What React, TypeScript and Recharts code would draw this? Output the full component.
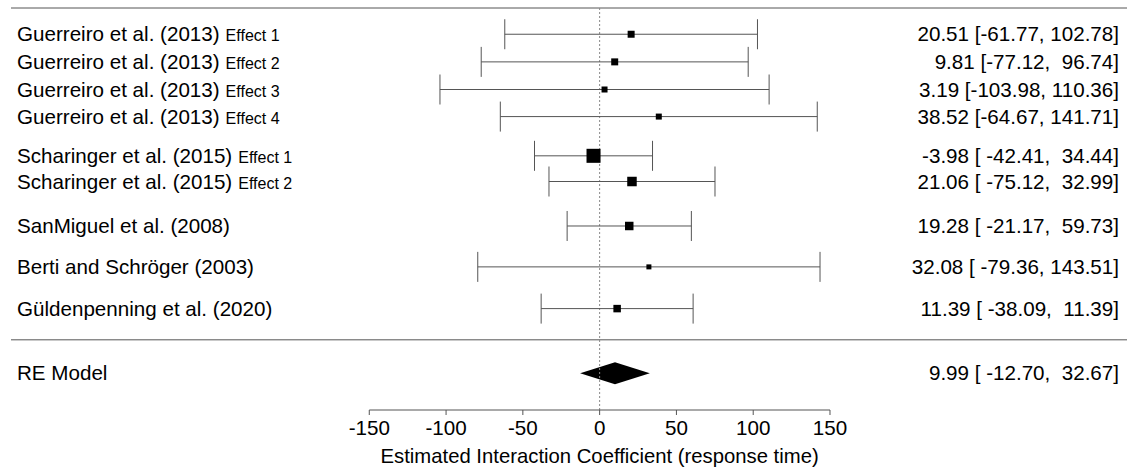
import React from 'react';
import {
  ComposedChart,
  Scatter,
  Area,
  ErrorBar,
  XAxis,
  YAxis,
  ReferenceLine,
} from 'recharts';

// study rows (top to bottom)
const studies = [
  'Guerreiro et al. (2013)',
  'Guerreiro et al. (2013)',
  'Guerreiro et al. (2013)',
  'Guerreiro et al. (2013)',
  'Scharinger et al. (2015)',
  'Scharinger et al. (2015)',
  'SanMiguel et al. (2008)',
  'Berti and Schröger (2003)',
  'Güldenpenning et al. (2020)',
];
const effects = ['Effect 1', 'Effect 2', 'Effect 3', 'Effect 4', 'Effect 1', 'Effect 2', '', '', ''];
const estimates = [20.51, 9.81, 3.19, 38.52, -3.98, 21.06, 19.28, 32.08, 11.39];
const ciLow = [-61.77, -77.12, -103.98, -64.67, -42.41, -32.99, -21.17, -79.36, -38.09];
const ciHigh = [102.78, 96.74, 110.36, 141.71, 34.44, 75.12, 59.73, 143.51, 60.87];
const weights = [8.0, 8.0, 5.9, 5.9, 32.2, 14.8, 11.8, 4.1, 9.2];
const ciText = [
  '20.51 [-61.77, 102.78]',
  '9.81 [-77.12,  96.74]',
  '3.19 [-103.98, 110.36]',
  '38.52 [-64.67, 141.71]',
  '-3.98 [ -42.41,  34.44]',
  '21.06 [ -75.12,  32.99]',
  '19.28 [ -21.17,  59.73]',
  '32.08 [ -79.36, 143.51]',
  '11.39 [ -38.09,  11.39]',
];
// vertical row positions, forest-plot style
const rows = [13.6, 12.6, 11.6, 10.62, 9.2, 8.27, 6.66, 5.18, 3.67];

// pooled random-effects model
const reLabel = 'RE Model';
const reEstimate = 9.99;
const reLow = -12.7;
const reHigh = 32.67;
const reText = '9.99 [ -12.70,  32.67]';
const reRow = 1.33;

const xTicks = [-150, -100, -50, 0, 50, 100, 150];
const axisTitle = 'Estimated Interaction Coefficient (response time)';

const X_MIN = -383.3;
const X_MAX = 343.4;
const Y_TOP = 14.55;
const SEPARATOR = 2.54;
const FONT = 'Liberation Sans, Arial, sans-serif';
const FS = 20.6;

const points = estimates.map((est, i) => ({
  x: est,
  y: rows[i],
  err: [est - ciLow[i], ciHigh[i] - est],
  w: weights[i],
}));

const diamond = [
  { x: reLow, band: [reRow, reRow] },
  { x: reEstimate, band: [reRow - 0.4, reRow + 0.4] },
  { x: reHigh, band: [reRow, reRow] },
];

const Square = (props: any) => {
  const { cx, cy, payload } = props;
  const s = Math.sqrt(payload.w) * 2.47;
  return <rect x={cx - s / 2} y={cy - s / 2} width={s} height={s} fill="#000" />;
};

const RowTick = (props: any) => {
  const { y, payload } = props;
  const i = rows.indexOf(payload.value);
  const left = i >= 0 ? studies[i] : reLabel;
  const eff = i >= 0 ? effects[i] : '';
  const right = i >= 0 ? ciText[i] : reText;
  return (
    <g fontFamily={FONT} fill="#000">
      <text x={17} y={y} dy="0.35em" fontSize={FS} style={{ whiteSpace: 'pre' }}>
        {left}
        {eff && (
          <tspan fontSize={16} dx={6}>
            {eff}
          </tspan>
        )}
      </text>
      <text x={1119} y={y} dy="0.35em" fontSize={FS} textAnchor="end" style={{ whiteSpace: 'pre' }}>
        {right}
      </text>
    </g>
  );
};

const XTick = (props: any) => {
  const { x, y, payload } = props;
  return (
    <g fontFamily={FONT} fill="#000">
      <text x={x} y={y} dy="0.71em" fontSize={FS} textAnchor="middle">
        {payload.value}
      </text>
      {payload.value === 0 && (
        <text x={x} y={y + 43} fontSize={20.3} textAnchor="middle">
          {axisTitle}
        </text>
      )}
    </g>
  );
};

export default function App() {
  return (
    <div style={{ position: 'absolute', left: 0, top: 0, background: '#fff' }}>
      <ComposedChart width={1127} height={472} margin={{ top: 8, right: 0, bottom: 12, left: 10 }}>
        <XAxis
          type="number"
          dataKey="x"
          domain={[X_MIN, X_MAX]}
          ticks={xTicks}
          interval={0}
          allowDataOverflow
          axisLine={false}
          tickLine={{ stroke: '#555' }}
          tickSize={5}
          tickMargin={5}
          height={50}
          tick={<XTick />}
        />
        <YAxis
          type="number"
          dataKey="y"
          domain={[0, Y_TOP]}
          ticks={[...rows, reRow]}
          interval={0}
          allowDataOverflow
          axisLine={false}
          tickLine={false}
          width={1}
          tick={<RowTick />}
        />
        <ReferenceLine y={Y_TOP} stroke="#555" strokeWidth={1} />
        <ReferenceLine y={SEPARATOR} stroke="#555" strokeWidth={1} />
        <ReferenceLine x={0} stroke="#888" strokeDasharray="2 2" />
        <ReferenceLine
          segment={[
            { x: xTicks[0], y: 0 },
            { x: xTicks[xTicks.length - 1], y: 0 },
          ]}
          stroke="#555"
        />
        <Area
          data={diamond}
          dataKey="band"
          type="linear"
          stroke="none"
          fill="#000"
          fillOpacity={1}
          dot={false}
          activeDot={false}
          isAnimationActive={false}
        />
        <Scatter data={points} shape={<Square />} isAnimationActive={false}>
          <ErrorBar dataKey="err" direction="x" width={15} stroke="#555" strokeWidth={1} />
        </Scatter>
      </ComposedChart>
    </div>
  );
}
